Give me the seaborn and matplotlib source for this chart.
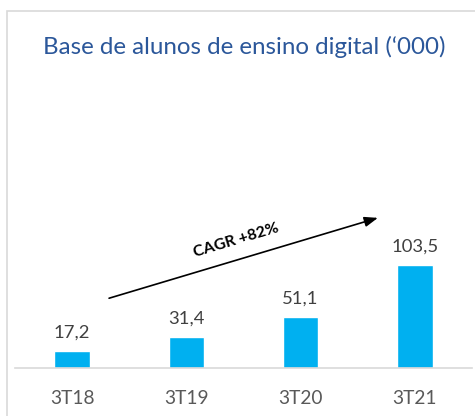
import pandas as pd
import seaborn as sns
import matplotlib.pyplot as plt
from matplotlib.patches import Rectangle

# Chart data
periods = ['3T18', '3T19', '3T20', '3T21']
students = [17.2, 31.4, 51.1, 103.5]
value_labels = ['17,2', '31,4', '51,1', '103,5']
cagr_text = 'CAGR +82%'

df = pd.DataFrame({'period': periods, 'students': students})

sns.set_style('white')
plt.rcParams['font.family'] = ['Lato', 'DejaVu Sans']

fig = plt.figure(figsize=(4.75, 4.16), dpi=100)
ax = fig.add_axes([0.0316, 0.1154, 0.962, 0.692])

sns.barplot(data=df, x='period', y='students', color='#00B0F0',
            saturation=1, width=0.31, ax=ax)

# Value labels above bars
for i, (v, lab) in enumerate(zip(students, value_labels)):
    ax.text(i, v + 10, lab, ha='center', va='bottom', fontsize=13.3, color='#404040')

# Growth arrow with CAGR label
ax.annotate('', xy=(2.70, 151), xytext=(0.30, 69),
            arrowprops=dict(arrowstyle='-|>,head_length=0.8,head_width=0.3',
                            color='black', lw=1.2))
ax.text(1.45, 121, cagr_text, ha='center', va='bottom', rotation=16.7,
        rotation_mode='anchor', fontsize=11.5, fontweight='bold', color='black')

ax.set_xlim(-0.5, 3.5)
ax.set_ylim(0, 288)
ax.set_xlabel('')
ax.set_ylabel('')
ax.set_yticks([])
ax.tick_params(axis='x', length=0, labelsize=13.8, labelcolor='#595959', pad=16)
for s in ['top', 'left', 'right']:
    ax.spines[s].set_visible(False)
ax.spines['bottom'].set_color('#D9D9D9')
ax.spines['bottom'].set_linewidth(1.2)

fig.text(0.515, 0.886, "Base de alunos de ensino digital (\u2018000)", ha='center', va='center',
         fontsize=17.4, color='#2B579A')

# Outer frame of the chart area
fig.patches.append(Rectangle((0.0147, -0.1), 1.2, 1.0736, transform=fig.transFigure,
                             fill=False, edgecolor='#D9D9D9', lw=1.2))

plt.savefig('out.png', dpi=100)
